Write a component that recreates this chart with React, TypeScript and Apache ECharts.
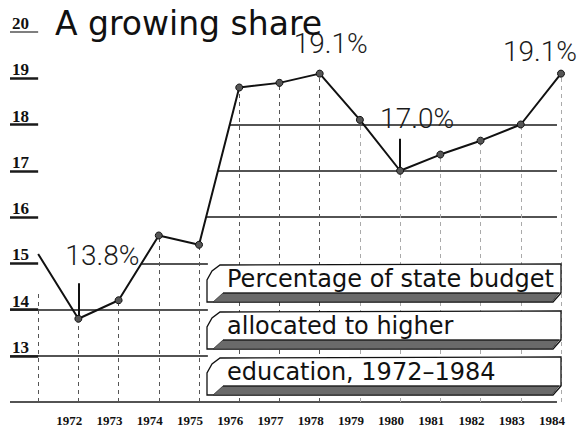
import React, { useEffect, useRef } from "react";
import * as echarts from "echarts";

// ---- data ----
const years = [1971, 1972, 1973, 1974, 1975, 1976, 1977, 1978, 1979, 1980, 1981, 1982, 1983, 1984];
const shares = [15.2, 13.8, 14.2, 15.6, 15.4, 18.8, 18.9, 19.1, 18.1, 17.0, 17.35, 17.65, 18.0, 19.1];
const yearLabels = [1972, 1973, 1974, 1975, 1976, 1977, 1978, 1979, 1980, 1981, 1982, 1983, 1984];
const calloutYears = [1972, 1978, 1980, 1984];
const leftRows = [12, 13, 14];
const risingRows = [15, 16, 17, 18];
const labelRows = [13, 14, 15, 16, 17, 18, 19, 20];
const titleText = "A growing share";
const boxLines = ["Percentage of state budget", "allocated to higher", "education, 1972\u20131984"];

const X_MIN = 1970.3;
const X_MAX = 1984;
const BOX_EDGE = 1975.22;

// callout label offsets (pixels) for each callout year
const calloutOffsets: Record<number, [number, number]> = {
  1972: [24, -63],
  1978: [11, -30],
  1980: [17, -52],
  1984: [-21, -22],
};
const pinHeights: Record<number, number> = { 1972: 0.77, 1980: 0.69 };

function valueOf(y: number) {
  return shares[years.indexOf(y)];
}

// first upward crossing of the line through level v after 1972
function crossing(v: number) {
  for (let i = 1; i < years.length - 1; i++) {
    const a = shares[i], b = shares[i + 1];
    if (a <= v && b >= v && b !== a) {
      return years[i] + (v - a) / (b - a);
    }
  }
  return X_MIN;
}

export default function App() {
  const ref = useRef<HTMLDivElement>(null);
  useEffect(() => {
    const chart = echarts.init(ref.current!, null, { renderer: "svg" });

    const gridLine = { color: "#1a1a1a", width: 1.5, type: "solid" as const };
    const underLine = { color: "#1a1a1a", width: 2.5, type: "solid" as const };
    const markLines: any[] = [];
    leftRows.forEach((v) => {
      markLines.push([
        { coord: [X_MIN, v], lineStyle: gridLine },
        { coord: [v === 12 ? 1983.9 : BOX_EDGE, v] },
      ]);
    });
    risingRows.forEach((v) => {
      markLines.push([
        { coord: [crossing(v), v], lineStyle: gridLine },
        { coord: [v === 15 ? BOX_EDGE : 1983.9, v] },
      ]);
    });
    labelRows.forEach((v) => {
      markLines.push([
        { coord: [X_MIN, v], lineStyle: v === 20 ? { ...underLine, width: 1.5, color: "#555" } : underLine },
        { coord: [1971.0, v] },
      ]);
    });
    // dashed droplines
    years.forEach((y, i) => {
      const top = i === 0 ? 14.4 : shares[i];
      markLines.push([
        {
          coord: [y, 12],
          lineStyle: {
            color: y > 1978 ? "#aaa" : "#555",
            width: 1,
            type: [4, 4],
          },
        },
        { coord: [y, top] },
      ]);
    });
    // pins
    Object.keys(pinHeights).forEach((k) => {
      const y = Number(k);
      const v = valueOf(y);
      markLines.push([
        { coord: [y, v], lineStyle: { color: "#111", width: 2, type: "solid" } },
        { coord: [y, v + pinHeights[y]] },
      ]);
    });

    const markPoints = calloutYears.map((y) => ({
      coord: [y, valueOf(y)],
      value: valueOf(y),
      symbol: "circle",
      symbolSize: 1,
      itemStyle: { color: "rgba(0,0,0,0)" },
      label: {
        show: true,
        position: "inside",
        offset: calloutOffsets[y],
        formatter: () => `${valueOf(y).toFixed(1)}%`,
        fontFamily: "Roboto",
        fontWeight: 300,
        fontSize: 28,
        color: "#1a1a1a",
      },
    }));

    const boxTop = [263, 310, 356];
    const boxes: any[] = [];
    boxLines.forEach((t, i) => {
      const T = boxTop[i];
      boxes.push({
        type: "polygon",
        shape: {
          points: [
            [207, T + 39],
            [207, T + 17],
            [212, T + 8],
            [220, T + 2],
            [561, T + 1],
            [561, T + 30],
            [553, T + 39],
          ],
        },
        style: { fill: "#fff", stroke: "#111", lineWidth: 1.3 },
        z: 100,
      });
      boxes.push({
        type: "polygon",
        shape: {
          points: [
            [213, T + 39],
            [223, T + 30],
            [559, T + 30],
            [552, T + 38.5],
          ],
        },
        style: { fill: "#6a6a6a", stroke: "#333", lineWidth: 0.8 },
        z: 101,
      });
      boxes.push({
        type: "line",
        shape: { x1: 223, y1: T + 30, x2: 561, y2: T + 30 },
        style: { stroke: "#111", lineWidth: 1.2 },
        z: 102,
      });
      boxes.push({
        type: "text",
        x: 227,
        y: T + 16,
        style: {
          text: t,
          fontFamily: "DejaVu Sans",
          fontSize: 24,
          fill: "#111",
          verticalAlign: "middle",
          align: "left",
        },
        z: 103,
      });
    });

    chart.setOption({
      animation: false,
      backgroundColor: "#fff",
      grid: { left: 10, right: 19, top: 32, bottom: 28, containLabel: false, outerBoundsMode: "none" },
      xAxis: {
        type: "value",
        min: X_MIN,
        max: X_MAX,
        axisLine: { show: false },
        axisTick: { show: false },
        splitLine: { show: false },
        axisLabel: {
          customValues: yearLabels,
          formatter: (v: number) => String(Math.round(v)),
          fontFamily: "Liberation Serif",
          fontWeight: "bold",
          fontSize: 13,
          color: "#111",
          margin: 12,
          padding: [0, 18, 0, 0],
        },
      },
      yAxis: {
        type: "value",
        min: 12,
        max: 20,
        interval: 1,
        axisLine: { show: false },
        axisTick: { show: false },
        splitLine: { show: false },
        axisLabel: {
          inside: true,
          formatter: (v: number) => (v === 12 ? "" : String(v)),
          fontFamily: "Liberation Serif",
          fontWeight: "bold",
          fontSize: 17,
          color: "#111",
          verticalAlign: "bottom",
          align: "left",
          margin: 2,
          showMaxLabel: true,
        },
      },
      graphic: [
        {
          type: "text",
          x: 55,
          y: 23,
          style: {
            text: titleText,
            fontFamily: "DejaVu Sans",
            fontSize: 33,
            fill: "#111",
            verticalAlign: "middle",
            align: "left",
          },
          z: 110,
        },
        ...boxes,
      ],
      series: [
        {
          type: "line",
          data: years.map((y, i) =>
            i === 0
              ? { value: [y, shares[i]], symbol: "none" }
              : { value: [y, shares[i]] }
          ),
          symbol: "circle",
          symbolSize: 7,
          itemStyle: { color: "#555", borderColor: "#111", borderWidth: 1 },
          lineStyle: { color: "#111", width: 2 },
          z: 5,
          markLine: {
            silent: true,
            symbol: ["none", "none"],
            label: { show: false },
            data: markLines,
            z: 3,
          },
          markPoint: {
            silent: true,
            data: markPoints,
            z: 6,
          },
        },
      ],
    });
    return () => chart.dispose();
  }, []);
  return (
    <div
      ref={ref}
      style={{ position: "fixed", left: 0, top: 0, width: 580, height: 430, background: "#fff" }}
    />
  );
}
